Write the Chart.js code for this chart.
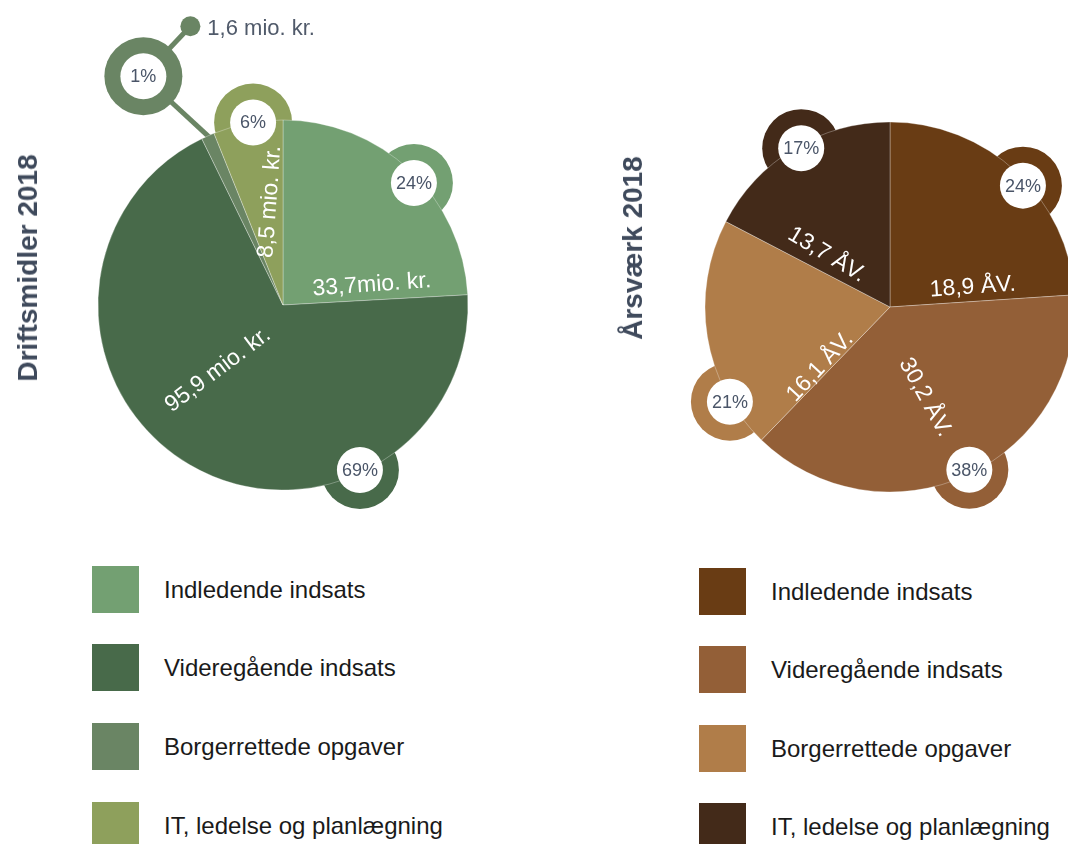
<!DOCTYPE html>
<html><head><meta charset="utf-8">
<script src="https://cdn.jsdelivr.net/npm/chart.js@4"></script>
<style>
html,body{margin:0;padding:0;width:1068px;height:844px;overflow:hidden;background:#fff;font-family:"Liberation Sans",Arial,sans-serif;}
#stage{position:relative;width:1068px;height:844px;overflow:hidden;}
canvas{position:absolute;}
.title{position:absolute;font-weight:bold;font-size:28px;line-height:28px;color:#3f4a5c;white-space:nowrap;transform:translate(-50%,-50%) rotate(-90deg);}
.sw{position:absolute;width:47px;height:47px;}
.lt{position:absolute;font-size:24px;line-height:24px;color:#1a1a1a;white-space:nowrap;transform:translateY(-50%);}
</style></head><body>
<div id="stage">
<canvas id="c1" width="570" height="560" style="left:0;top:0"></canvas>
<canvas id="c2" width="600" height="560" style="left:600px;top:0"></canvas>
<div class="title" id="t1" style="left:27.5px;top:268px"></div>
<div class="title" id="t2" style="left:632.5px;top:247.5px"></div>
<div id="leg"></div>
</div>
<script>
// ---- data ----
const categories = ['Indledende indsats', 'Videregående indsats', 'Borgerrettede opgaver', 'IT, ledelse og planlægning'];
const titleDrift = 'Driftsmidler 2018';
const titleAarsvaerk = 'Årsværk 2018';
const driftValues = [33.7, 95.9, 1.6, 8.5];
const driftPct = [24, 69, 1, 6];
const driftLabels = ['33,7mio. kr.', '95,9 mio. kr.', '1,6 mio. kr.', '8,5 mio. kr.'];
const aarsvaerkValues = [18.9, 30.2, 16.1, 13.7];
const aarsvaerkPct = [24, 38, 21, 17];
const aarsvaerkLabels = ['18,9 ÅV.', '30,2 ÅV.', '16,1 ÅV.', '13,7 ÅV.'];

// ---- styles / layout ----
const driftColors = ['#73a072', '#486a4a', '#6a8564', '#8ea05c'];
const aarsColors = ['#693c14', '#935f37', '#b07d49', '#432a19'];
const pctColor = '#4a5568';
const FONT = '"Liberation Sans", Arial, sans-serif';

const driftDecor = {
  badges: [{a: 47, r: 179}, {a: 155, r: 182}, {a: 328.6, r: 268, callout: true, lineFrom: 337.5, dot: [47, -50]}, {a: 350.7, r: 185}],
  labels: [{a: 77.3, r: 91, rot: -4}, {a: 225, r: 92, rot: -37}, null, {a: 352.8, r: 104, rot: -86}]
};
const aarsDecor = {
  badges: [{a: 47.6, r: 180}, {a: 154, r: 181}, {a: 239.4, r: 186}, {a: 330.8, r: 182}],
  labels: [{a: 76.5, r: 85, rot: -4}, {a: 158.7, r: 97, rot: 61}, {a: 229.4, r: 92, rot: -47}, {a: 309.5, r: 82, rot: 31}]
};

function pt(cx, cy, a, r) {
  const t = (a - 90) * Math.PI / 180;
  return {x: cx + r * Math.cos(t), y: cy + r * Math.sin(t)};
}

function makeDecor(cfg, colors, pct, labels) {
  const ringR = 39, whiteR = 23;
  return {
    id: 'decor',
    beforeDatasetsDraw(chart) {
      const ctx = chart.ctx;
      const arc = chart.getDatasetMeta(0).data[0];
      const cx = arc.x, cy = arc.y, R = arc.outerRadius;
      cfg.badges.forEach((b, i) => {
        const col = colors[i];
        const p = pt(cx, cy, b.a, b.r);
        ctx.save();
        ctx.fillStyle = col; ctx.strokeStyle = col;
        if (b.callout) {
          const e = pt(cx, cy, b.lineFrom, R - 10);
          ctx.lineWidth = 5;
          ctx.beginPath(); ctx.moveTo(e.x, e.y); ctx.lineTo(p.x, p.y); ctx.stroke();
          const d = {x: p.x + b.dot[0], y: p.y + b.dot[1]};
          ctx.beginPath(); ctx.moveTo(p.x, p.y); ctx.lineTo(d.x, d.y); ctx.stroke();
          ctx.beginPath(); ctx.arc(d.x, d.y, 10, 0, 2 * Math.PI); ctx.fill();
        }
        ctx.beginPath(); ctx.arc(p.x, p.y, ringR, 0, 2 * Math.PI); ctx.fill();
        ctx.restore();
      });
    },
    afterDatasetsDraw(chart) {
      const ctx = chart.ctx;
      const arc = chart.getDatasetMeta(0).data[0];
      const cx = arc.x, cy = arc.y;
      cfg.badges.forEach((b, i) => {
        const p = pt(cx, cy, b.a, b.r);
        ctx.save();
        ctx.fillStyle = '#ffffff';
        ctx.beginPath(); ctx.arc(p.x, p.y, whiteR, 0, 2 * Math.PI); ctx.fill();
        ctx.fillStyle = pctColor;
        ctx.font = '18px ' + FONT;
        ctx.textAlign = 'center'; ctx.textBaseline = 'middle';
        ctx.fillText(pct[i] + '%', p.x, p.y + 1);
        if (b.callout) {
          const d = {x: p.x + b.dot[0], y: p.y + b.dot[1]};
          ctx.font = '22px ' + FONT;
          ctx.textAlign = 'left';
          ctx.fillStyle = '#505a6a';
          ctx.fillText(labels[i], d.x + 17, d.y + 3);
        }
        ctx.restore();
      });
      cfg.labels.forEach((l, i) => {
        if (!l) return;
        const p = pt(cx, cy, l.a, l.r);
        ctx.save();
        ctx.translate(p.x, p.y);
        ctx.rotate(l.rot * Math.PI / 180);
        ctx.fillStyle = '#ffffff';
        ctx.font = '23px ' + FONT;
        ctx.textAlign = 'center'; ctx.textBaseline = 'middle';
        ctx.fillText(labels[i], 0, 0);
        ctx.restore();
      });
    }
  };
}

function makePie(id, values, colors, pad, decor) {
  return new Chart(document.getElementById(id), {
    type: 'pie',
    data: {
      labels: categories,
      datasets: [{data: values, backgroundColor: colors, borderColor: 'rgba(255,255,255,0.3)', borderWidth: 1, hoverOffset: 0}]
    },
    options: {
      responsive: false,
      animation: false,
      radius: 185,
      layout: {padding: pad},
      plugins: {legend: {display: false}, tooltip: {enabled: false}}
    },
    plugins: [decor]
  });
}

makePie('c1', driftValues, driftColors, {left: 98, top: 120, right: 102, bottom: 70},
  makeDecor(driftDecor, driftColors, driftPct, driftLabels));
makePie('c2', aarsvaerkValues, aarsColors, {left: 105, top: 122, right: 125, bottom: 68},
  makeDecor(aarsDecor, aarsColors, aarsvaerkPct, aarsvaerkLabels));

document.getElementById('t1').textContent = titleDrift;
document.getElementById('t2').textContent = titleAarsvaerk;

// ---- legends ----
const leg = document.getElementById('leg');
function buildLegend(colors, sx, tx, tops) {
  categories.forEach((c, i) => {
    const s = document.createElement('div');
    s.className = 'sw';
    s.style.left = sx + 'px'; s.style.top = tops[i] + 'px'; s.style.background = colors[i];
    leg.appendChild(s);
    const t = document.createElement('div');
    t.className = 'lt';
    t.style.left = tx + 'px'; t.style.top = (tops[i] + 23.5) + 'px';
    t.textContent = c;
    leg.appendChild(t);
  });
}
buildLegend(driftColors, 92, 164, [566, 644, 723, 802]);
buildLegend(aarsColors, 699, 771, [568, 646, 725, 803]);
</script>
</body></html>
